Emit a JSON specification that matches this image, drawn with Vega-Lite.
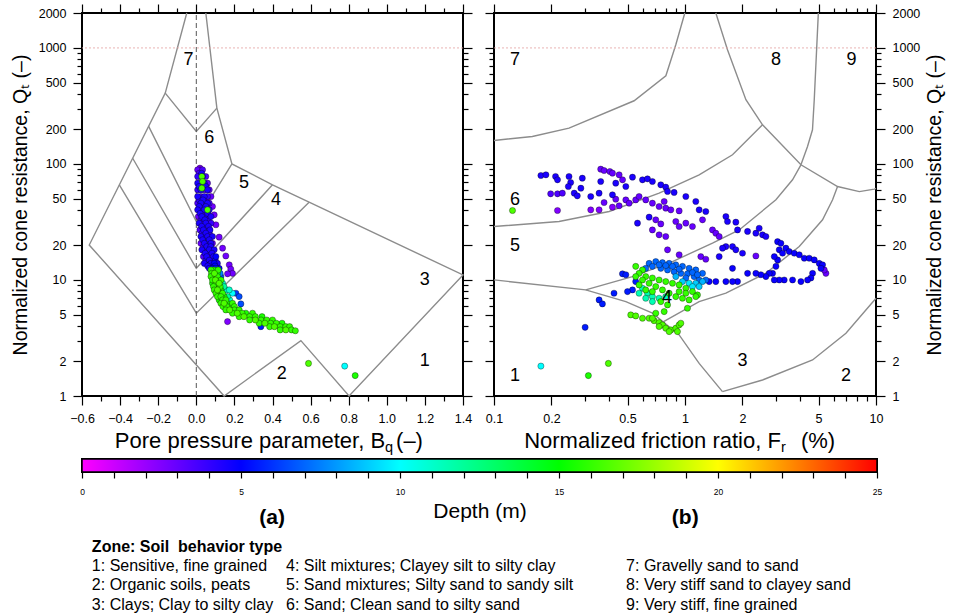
{
"$schema": "https://vega.github.io/schema/vega-lite/v6.json",
"background": "white",
"padding": {"left": 9, "top": 2, "right": 4, "bottom": 2},
"config": {
  "font": "Liberation Sans",
  "view": {"stroke": "black", "strokeWidth": 2},
  "axis": {"domain": false, "grid": false, "tickColor": "black", "tickWidth": 1.2, "labelFont": "Liberation Sans", "labelFontSize": 12.5, "labelColor": "black", "titleFont": "Liberation Sans", "titleFontSize": 19.5, "titleFontWeight": "normal", "titleColor": "black", "labelPadding": 7, "labelOverlap": false, "labelFlush": false, "labelBound": false},
  "text": {"font": "Liberation Sans", "color": "black"}
},
"datasets": {
  "zonesA": [
    {"s":1,"o":0,"bq":-0.05,"qt":2000},{"s":1,"o":1,"bq":-0.163,"qt":408},{"s":1,"o":2,"bq":-0.562,"qt":20},{"s":1,"o":3,"bq":0.146,"qt":1},{"s":1,"o":4,"bq":0.549,"qt":3.0},{"s":1,"o":5,"bq":0.802,"qt":1},{"s":1,"o":6,"bq":1.4,"qt":11.06},{"s":1,"o":7,"bq":0.592,"qt":46.8},{"s":1,"o":8,"bq":0.4,"qt":66.1},{"s":1,"o":9,"bq":0.187,"qt":100},{"s":1,"o":10,"bq":0.108,"qt":303},{"s":1,"o":11,"bq":0.05,"qt":2000},
    {"s":2,"o":0,"bq":-0.163,"qt":408},{"s":2,"o":1,"bq":0,"qt":190.6},{"s":2,"o":2,"bq":0.108,"qt":303},
    {"s":3,"o":0,"bq":-0.25,"qt":211},{"s":3,"o":1,"bq":0,"qt":31.9},{"s":3,"o":2,"bq":0.187,"qt":100},
    {"s":4,"o":0,"bq":-0.334,"qt":112},{"s":4,"o":1,"bq":0,"qt":12.6},{"s":4,"o":2,"bq":0.4,"qt":66.1},
    {"s":5,"o":0,"bq":-0.404,"qt":66},{"s":5,"o":1,"bq":0,"qt":5.17},{"s":5,"o":2,"bq":0.592,"qt":46.8}
  ],
  "zonesB": [
    {"s":1,"o":0,"fr":0.1,"qt":159.3},{"s":1,"o":1,"fr":0.1588,"qt":172.5},{"s":1,"o":2,"fr":0.247,"qt":203.7},{"s":1,"o":3,"fr":0.5415,"qt":350.4},{"s":1,"o":4,"fr":0.794,"qt":575.6},{"s":1,"o":5,"fr":0.895,"qt":1066},{"s":1,"o":6,"fr":0.998,"qt":2000},
    {"s":2,"o":0,"fr":1.45,"qt":2000},{"s":2,"o":1,"fr":1.669,"qt":965},{"s":2,"o":2,"fr":2.084,"qt":357.5},{"s":2,"o":3,"fr":2.546,"qt":217.6},{"s":2,"o":4,"fr":4.046,"qt":98.3},{"s":2,"o":5,"fr":6.29,"qt":63.9},{"s":2,"o":6,"fr":8.18,"qt":57.8},{"s":2,"o":7,"fr":9.8,"qt":60.7},{"s":2,"o":8,"fr":10,"qt":61.5},
    {"s":3,"o":0,"fr":4.99,"qt":2000},{"s":3,"o":1,"fr":4.75,"qt":357.5},{"s":3,"o":2,"fr":4.65,"qt":197},{"s":3,"o":3,"fr":4.38,"qt":141.4},{"s":3,"o":4,"fr":4.046,"qt":98.3},
    {"s":4,"o":0,"fr":0.1,"qt":28.9},{"s":4,"o":1,"fr":0.219,"qt":31.9},{"s":4,"o":2,"fr":0.4006,"qt":38.9},{"s":4,"o":3,"fr":0.7323,"qt":56.0},{"s":4,"o":4,"fr":1.186,"qt":80.6},{"s":4,"o":5,"fr":1.773,"qt":119.9},{"s":4,"o":6,"fr":2.546,"qt":217.6},
    {"s":5,"o":0,"fr":0.1,"qt":10.01},{"s":5,"o":1,"fr":0.302,"qt":8.21},{"s":5,"o":2,"fr":0.49,"qt":6.51},{"s":5,"o":3,"fr":0.6755,"qt":5.17},{"s":5,"o":4,"fr":0.932,"qt":3.36},{"s":5,"o":5,"fr":1.186,"qt":1.91},{"s":5,"o":6,"fr":1.571,"qt":1.09},
    {"s":6,"o":0,"fr":0.302,"qt":8.21},{"s":6,"o":1,"fr":0.5305,"qt":10.69},{"s":6,"o":2,"fr":0.86,"qt":14.4},{"s":6,"o":3,"fr":1.393,"qt":20.8},{"s":6,"o":4,"fr":1.921,"qt":27.0},{"s":6,"o":5,"fr":2.992,"qt":49.1},{"s":6,"o":6,"fr":3.656,"qt":73.0},{"s":6,"o":7,"fr":4.046,"qt":98.3},
    {"s":7,"o":0,"fr":0.7684,"qt":4.35},{"s":7,"o":1,"fr":1.186,"qt":6.51},{"s":7,"o":2,"fr":1.637,"qt":7.69},{"s":7,"o":3,"fr":2.652,"qt":11.44},{"s":7,"o":4,"fr":3.964,"qt":19.4},{"s":7,"o":5,"fr":5.25,"qt":33.0},{"s":7,"o":6,"fr":5.925,"qt":49.1},{"s":7,"o":7,"fr":6.29,"qt":63.9},
    {"s":8,"o":0,"fr":1.571,"qt":1.09},{"s":8,"o":1,"fr":2.546,"qt":1.374},{"s":8,"o":2,"fr":4.654,"qt":2.044},{"s":8,"o":3,"fr":6.96,"qt":3.47},{"s":8,"o":4,"fr":10,"qt":6.96}
  ],
  "labelsA": [
    {"z":"7","bq":-0.041,"qt":791},{"z":"6","bq":0.068,"qt":169},{"z":"5","bq":0.251,"qt":69.2},{"z":"4","bq":0.418,"qt":49.1},{"z":"3","bq":1.199,"qt":10.0},{"z":"2","bq":0.449,"qt":1.54},{"z":"1","bq":1.199,"qt":2.02}
  ],
  "labelsB": [
    {"z":"7","fr":0.1288,"qt":791},{"z":"8","fr":2.992,"qt":791},{"z":"9","fr":7.45,"qt":791},{"z":"6","fr":0.1288,"qt":49.1},{"z":"5","fr":0.1288,"qt":19.8},{"z":"4","fr":0.804,"qt":7.05},{"z":"3","fr":2.0,"qt":2.02},{"z":"2","fr":6.96,"qt":1.49},{"z":"1","fr":0.1288,"qt":1.49}
  ],
  "ptsA": [
    {"bq":0.019,"qt":92,"d":2.5},
    {"bq":0.007,"qt":89,"d":3},{"bq":0.02,"qt":89,"d":2.5},{"bq":0.033,"qt":89,"d":3.5},
    {"bq":0.015,"qt":83,"d":3.5},{"bq":0.028,"qt":83,"d":4.5},
    {"bq":0.007,"qt":78,"d":4},{"bq":0.02,"qt":78,"d":3},{"bq":0.033,"qt":78,"d":4.5},{"bq":0.05,"qt":78,"d":3.5},
    {"bq":0.007,"qt":68.3,"d":4.5},{"bq":0.024,"qt":68.3,"d":3},{"bq":0.042,"qt":68.3,"d":4.5},{"bq":0.059,"qt":68.3,"d":3},
    {"bq":0.015,"qt":64,"d":4.5},{"bq":0.035,"qt":64,"d":3.5},{"bq":0.05,"qt":64,"d":4.5},
    {"bq":0.007,"qt":59.8,"d":4},{"bq":0.024,"qt":59.8,"d":4.5},{"bq":0.042,"qt":59.8,"d":3},{"bq":0.059,"qt":59.8,"d":4.5},{"bq":0.068,"qt":59.8,"d":3},
    {"bq":0.007,"qt":52.4,"d":4.5},{"bq":0.024,"qt":52.4,"d":3.5},{"bq":0.042,"qt":52.4,"d":4.5},{"bq":0.059,"qt":52.4,"d":4},{"bq":0.077,"qt":52.4,"d":3},
    {"bq":0.015,"qt":49,"d":4},{"bq":0.035,"qt":49,"d":4.5},{"bq":0.05,"qt":49,"d":3},
    {"bq":0.007,"qt":45.9,"d":3.5},{"bq":0.024,"qt":45.9,"d":4.5},{"bq":0.042,"qt":45.9,"d":3},{"bq":0.059,"qt":45.9,"d":4.5},{"bq":0.068,"qt":45.9,"d":3.5},
    {"bq":0.015,"qt":43,"d":4.5},{"bq":0.033,"qt":43,"d":3.5},{"bq":0.05,"qt":43,"d":4.5},
    {"bq":0.007,"qt":40.2,"d":4.5},{"bq":0.024,"qt":40.2,"d":3},{"bq":0.042,"qt":40.2,"d":4.5},{"bq":0.059,"qt":40.2,"d":3.5},{"bq":0.068,"qt":40.2,"d":4.5},
    {"bq":0.02,"qt":37.5,"d":4.5},{"bq":0.04,"qt":37.5,"d":3},{"bq":0.06,"qt":37.5,"d":4.5},
    {"bq":0.011,"qt":35.2,"d":3},{"bq":0.029,"qt":35.2,"d":4.5},{"bq":0.05,"qt":35.2,"d":4},{"bq":0.068,"qt":35.2,"d":3.5},{"bq":0.077,"qt":35.2,"d":4.5},
    {"bq":0.025,"qt":33,"d":3.5},{"bq":0.045,"qt":33,"d":4.5},{"bq":0.062,"qt":33,"d":4},
    {"bq":0.015,"qt":30.9,"d":4.5},{"bq":0.033,"qt":30.9,"d":3.5},{"bq":0.05,"qt":30.9,"d":4.5},{"bq":0.068,"qt":30.9,"d":3},{"bq":0.077,"qt":30.9,"d":4},
    {"bq":0.028,"qt":29,"d":4.5},{"bq":0.046,"qt":29,"d":3.5},{"bq":0.064,"qt":29,"d":4.5},
    {"bq":0.019,"qt":27,"d":3.5},{"bq":0.037,"qt":27,"d":4.5},{"bq":0.055,"qt":27,"d":3},{"bq":0.072,"qt":27,"d":4.5},
    {"bq":0.03,"qt":25.3,"d":4},{"bq":0.05,"qt":25.3,"d":4.5},{"bq":0.068,"qt":25.3,"d":3.5},
    {"bq":0.024,"qt":23.7,"d":4.5},{"bq":0.042,"qt":23.7,"d":3.5},{"bq":0.059,"qt":23.7,"d":4.5},{"bq":0.077,"qt":23.7,"d":3},{"bq":0.085,"qt":23.7,"d":4.5},
    {"bq":0.033,"qt":22.2,"d":4.5},{"bq":0.05,"qt":22.2,"d":3},{"bq":0.068,"qt":22.2,"d":4.5},
    {"bq":0.024,"qt":20.7,"d":3},{"bq":0.042,"qt":20.7,"d":4.5},{"bq":0.059,"qt":20.7,"d":3.5},{"bq":0.077,"qt":20.7,"d":4.5},{"bq":0.085,"qt":20.7,"d":3},
    {"bq":0.037,"qt":19.4,"d":3.5},{"bq":0.055,"qt":19.4,"d":4.5},{"bq":0.076,"qt":19.4,"d":4.5},
    {"bq":0.029,"qt":18.2,"d":4.5},{"bq":0.05,"qt":18.2,"d":3},{"bq":0.068,"qt":18.2,"d":4.5},{"bq":0.085,"qt":18.2,"d":4},{"bq":0.094,"qt":18.2,"d":4.5},
    {"bq":0.046,"qt":17,"d":4.5},{"bq":0.064,"qt":17,"d":3.5},{"bq":0.082,"qt":17,"d":4.5},
    {"bq":0.037,"qt":15.9,"d":3.5},{"bq":0.055,"qt":15.9,"d":4.5},{"bq":0.072,"qt":15.9,"d":3},{"bq":0.09,"qt":15.9,"d":4.5},{"bq":0.103,"qt":15.9,"d":5},
    {"bq":0.05,"qt":14.8,"d":4},{"bq":0.068,"qt":14.8,"d":4.5},{"bq":0.086,"qt":14.8,"d":3.5},{"bq":0.1,"qt":14.8,"d":4.5},
    {"bq":0.042,"qt":13.9,"d":4.5},{"bq":0.06,"qt":13.9,"d":3.5},{"bq":0.077,"qt":13.9,"d":4.5},{"bq":0.094,"qt":13.9,"d":5},{"bq":0.111,"qt":13.9,"d":4.5},
    {"bq":0.06,"qt":13.2,"d":4.5},{"bq":0.078,"qt":13.2,"d":4},{"bq":0.098,"qt":13.2,"d":5},
    {"bq":0.068,"qt":12.6,"d":4.5},{"bq":0.085,"qt":12.6,"d":5},{"bq":0.103,"qt":12.6,"d":5.5},{"bq":0.12,"qt":12.6,"d":5},
    {"bq":0.085,"qt":43,"d":2.8},{"bq":0.094,"qt":36.4,"d":2.8},{"bq":0.103,"qt":29.9,"d":2.8},{"bq":0.12,"qt":23.4,"d":2.8},{"bq":0.138,"qt":18.8,"d":2.8},{"bq":0.155,"qt":16.1,"d":2.8},{"bq":0.173,"qt":13.5,"d":2.8},{"bq":0.181,"qt":12.4,"d":2.8},{"bq":0.19,"qt":11.4,"d":2.8},{"bq":0.164,"qt":11.3,"d":2.8},{"bq":0.164,"qt":4.38,"d":2.5},
    {"bq":0.029,"qt":78,"d":16.5},{"bq":0.033,"qt":70.6,"d":16.5},{"bq":0.029,"qt":61.8,"d":16.5},{"bq":0.059,"qt":40.2,"d":16.5},
    {"bq":0.077,"qt":12.2,"d":16},{"bq":0.09,"qt":12.2,"d":15.5},{"bq":0.103,"qt":12.2,"d":7},{"bq":0.115,"qt":12.2,"d":16},
    {"bq":0.08,"qt":11.4,"d":16},{"bq":0.095,"qt":11.4,"d":16.5},{"bq":0.11,"qt":11.4,"d":14},{"bq":0.125,"qt":11.4,"d":7.5},
    {"bq":0.077,"qt":10.7,"d":16},{"bq":0.094,"qt":10.7,"d":15.5},{"bq":0.111,"qt":10.7,"d":16},{"bq":0.129,"qt":10.7,"d":6.5},
    {"bq":0.085,"qt":10,"d":16},{"bq":0.1,"qt":10,"d":16.5},{"bq":0.115,"qt":10,"d":12},{"bq":0.13,"qt":10,"d":16},
    {"bq":0.085,"qt":9.37,"d":15.5},{"bq":0.103,"qt":9.37,"d":16},{"bq":0.12,"qt":9.37,"d":16.5},{"bq":0.138,"qt":9.37,"d":11},
    {"bq":0.09,"qt":8.77,"d":16},{"bq":0.108,"qt":8.77,"d":15.5},{"bq":0.125,"qt":8.77,"d":16},{"bq":0.145,"qt":8.77,"d":12},
    {"bq":0.094,"qt":8.21,"d":16},{"bq":0.111,"qt":8.21,"d":16.5},{"bq":0.129,"qt":8.21,"d":15.5},{"bq":0.16,"qt":8.21,"d":10.5},{"bq":0.173,"qt":8.21,"d":11},
    {"bq":0.103,"qt":7.69,"d":16},{"bq":0.12,"qt":7.69,"d":15.5},{"bq":0.138,"qt":7.69,"d":16},{"bq":0.19,"qt":7.69,"d":10},{"bq":0.208,"qt":7.69,"d":6},
    {"bq":0.111,"qt":7.19,"d":16},{"bq":0.129,"qt":7.19,"d":16},{"bq":0.146,"qt":7.19,"d":15.5},{"bq":0.164,"qt":7.19,"d":12},{"bq":0.225,"qt":7.19,"d":6.5},
    {"bq":0.12,"qt":6.73,"d":15.5},{"bq":0.138,"qt":6.73,"d":16},{"bq":0.155,"qt":6.73,"d":16},{"bq":0.175,"qt":6.73,"d":11},
    {"bq":0.129,"qt":6.3,"d":16},{"bq":0.146,"qt":6.3,"d":16.5},{"bq":0.164,"qt":6.3,"d":15.5},{"bq":0.19,"qt":6.3,"d":16},{"bq":0.234,"qt":6.22,"d":6.5},
    {"bq":0.14,"qt":5.9,"d":16},{"bq":0.16,"qt":5.9,"d":16},{"bq":0.18,"qt":5.9,"d":15.5},{"bq":0.2,"qt":5.9,"d":16},
    {"bq":0.155,"qt":5.52,"d":16},{"bq":0.175,"qt":5.52,"d":16.5},{"bq":0.2,"qt":5.52,"d":16},{"bq":0.225,"qt":5.52,"d":16},
    {"bq":0.19,"qt":5.17,"d":16},{"bq":0.215,"qt":5.17,"d":16.5},{"bq":0.24,"qt":5.17,"d":16},{"bq":0.26,"qt":5.17,"d":15.5},{"bq":0.295,"qt":5.17,"d":16},
    {"bq":0.225,"qt":4.83,"d":16},{"bq":0.25,"qt":4.83,"d":16.5},{"bq":0.28,"qt":4.83,"d":16},{"bq":0.31,"qt":4.83,"d":16},{"bq":0.345,"qt":4.83,"d":15.5},
    {"bq":0.28,"qt":4.52,"d":16},{"bq":0.31,"qt":4.52,"d":16.5},{"bq":0.34,"qt":4.52,"d":16},{"bq":0.37,"qt":4.52,"d":16},{"bq":0.4,"qt":4.52,"d":16},
    {"bq":0.33,"qt":4.24,"d":16},{"bq":0.36,"qt":4.24,"d":16.5},{"bq":0.39,"qt":4.24,"d":16},{"bq":0.42,"qt":4.24,"d":16},{"bq":0.45,"qt":4.24,"d":15.5},
    {"bq":0.385,"qt":3.96,"d":16},{"bq":0.41,"qt":3.96,"d":16.5},{"bq":0.44,"qt":3.96,"d":16},{"bq":0.47,"qt":3.96,"d":16},{"bq":0.49,"qt":3.96,"d":16},
    {"bq":0.44,"qt":3.71,"d":16},{"bq":0.47,"qt":3.71,"d":16.5},{"bq":0.5,"qt":3.71,"d":16},{"bq":0.52,"qt":3.65,"d":16},
    {"bq":0.339,"qt":3.96,"d":5.5},
    {"bq":0.589,"qt":1.91,"d":16.5},{"bq":0.779,"qt":1.81,"d":10},{"bq":0.834,"qt":1.5,"d":15.5}
  ],
  "ptsB": [
    {"fr":0.176,"qt":79.5,"d":4.5},{"fr":0.187,"qt":80.6,"d":4.5},{"fr":0.21,"qt":78.0,"d":4.5},{"fr":0.215,"qt":73.0,"d":4.5},{"fr":0.247,"qt":78.0,"d":4.5},{"fr":0.252,"qt":69.2,"d":4.5},{"fr":0.245,"qt":63.9,"d":4.5},{"fr":0.29,"qt":75.4,"d":4.5},{"fr":0.285,"qt":61.8,"d":4.5},{"fr":0.263,"qt":56.0,"d":4.5},{"fr":0.273,"qt":53.1,"d":4.5},
    {"fr":0.198,"qt":55.3,"d":3.5},{"fr":0.215,"qt":55.3,"d":3.5},{"fr":0.228,"qt":56.0,"d":3.5},{"fr":0.215,"qt":39.7,"d":2.5},
    {"fr":0.362,"qt":90.2,"d":3},{"fr":0.377,"qt":87.8,"d":3},{"fr":0.404,"qt":86.1,"d":3},{"fr":0.417,"qt":83.3,"d":3},{"fr":0.452,"qt":80.6,"d":3},{"fr":0.471,"qt":73.0,"d":3},
    {"fr":0.531,"qt":76.9,"d":4.5},{"fr":0.599,"qt":73.0,"d":4.5},{"fr":0.636,"qt":74.4,"d":4.5},{"fr":0.675,"qt":70.6,"d":4.5},{"fr":0.747,"qt":66.1,"d":4.5},{"fr":0.793,"qt":63.1,"d":4.5},{"fr":0.81,"qt":57.9,"d":4.5},{"fr":0.877,"qt":56.8,"d":4.5},{"fr":0.362,"qt":70.6,"d":4.5},{"fr":0.434,"qt":68.3,"d":4.5},{"fr":0.49,"qt":63.9,"d":4.5},{"fr":0.321,"qt":52.4,"d":4.5},{"fr":0.355,"qt":56.0,"d":4.5},{"fr":0.417,"qt":54.2,"d":4.5},
    {"fr":0.377,"qt":46.5,"d":3},{"fr":0.434,"qt":49.7,"d":3},{"fr":0.49,"qt":49.0,"d":3},{"fr":0.452,"qt":43.6,"d":3},{"fr":0.51,"qt":45.9,"d":3},{"fr":0.552,"qt":49.0,"d":3},{"fr":0.575,"qt":52.4,"d":3},{"fr":0.623,"qt":49.0,"d":3},{"fr":0.675,"qt":45.9,"d":3},{"fr":0.732,"qt":43.0,"d":3},{"fr":0.778,"qt":47.5,"d":3},{"fr":0.793,"qt":41.6,"d":3},{"fr":0.843,"qt":40.2,"d":3},{"fr":0.932,"qt":39.4,"d":3},
    {"fr":1.139,"qt":47.5,"d":4.5},{"fr":1.01,"qt":52.4,"d":4.5},
    {"fr":0.355,"qt":40.2,"d":2.5},{"fr":0.321,"qt":40.2,"d":2.5},{"fr":0.417,"qt":42.4,"d":2.5},
    {"fr":0.564,"qt":30.9,"d":4.5},{"fr":0.649,"qt":34.8,"d":4.5},
    {"fr":0.703,"qt":33.0,"d":3},{"fr":0.747,"qt":30.4,"d":3},{"fr":0.675,"qt":27.0,"d":3},{"fr":0.732,"qt":24.5,"d":3},{"fr":0.793,"qt":23.7,"d":3},{"fr":0.81,"qt":18.2,"d":3},{"fr":0.932,"qt":16.5,"d":3},{"fr":0.895,"qt":31.9,"d":3},{"fr":0.932,"qt":28.9,"d":3},{"fr":1.01,"qt":30.9,"d":3},{"fr":1.094,"qt":28.9,"d":3},{"fr":1.235,"qt":33.0,"d":3},{"fr":1.393,"qt":27.0,"d":3},{"fr":1.45,"qt":25.3,"d":3},{"fr":1.51,"qt":23.7,"d":3},
    {"fr":1.186,"qt":40.2,"d":4.5},{"fr":1.285,"qt":38.9,"d":4.5},{"fr":1.637,"qt":35.2,"d":4.5},{"fr":1.669,"qt":31.9,"d":4.5},{"fr":1.846,"qt":31.5,"d":4.5},{"fr":1.884,"qt":27.0,"d":4.5},{"fr":2.126,"qt":26.2,"d":4.5},{"fr":2.35,"qt":25.3,"d":4.5},{"fr":2.446,"qt":27.9,"d":4.5},{"fr":2.547,"qt":24.5,"d":4.5},{"fr":2.652,"qt":23.7,"d":4.5},{"fr":1.773,"qt":19.4,"d":4.5},{"fr":1.846,"qt":18.2,"d":4.5},{"fr":1.637,"qt":19.4,"d":4.5},{"fr":1.572,"qt":18.8,"d":4.5},{"fr":1.51,"qt":15.9,"d":4.5},{"fr":2.0,"qt":17.0,"d":4.5},
    {"fr":2.35,"qt":16.1,"d":3},{"fr":1.21,"qt":15.9,"d":3},{"fr":1.285,"qt":15.1,"d":3},
    {"fr":3.053,"qt":21.4,"d":4.8},{"fr":3.177,"qt":20.7,"d":4.8},{"fr":3.115,"qt":18.2,"d":4.8},{"fr":3.242,"qt":17.0,"d":4.8},{"fr":3.374,"qt":18.8,"d":4.8},{"fr":3.513,"qt":17.6,"d":4.8},{"fr":3.732,"qt":17.0,"d":4.8},{"fr":3.964,"qt":16.5,"d":4.8},{"fr":4.211,"qt":15.4,"d":4.8},{"fr":4.473,"qt":15.4,"d":4.8},{"fr":4.75,"qt":14.9,"d":4.8},{"fr":5.045,"qt":13.9,"d":4.8},{"fr":5.252,"qt":13.5,"d":4.8},{"fr":5.148,"qt":12.6,"d":4.8},{"fr":4.656,"qt":11.4,"d":4.8},{"fr":4.564,"qt":10.4,"d":4.8},{"fr":4.384,"qt":10.0,"d":4.8},{"fr":4.045,"qt":9.69,"d":4.8},{"fr":3.657,"qt":10.0,"d":4.8},{"fr":3.307,"qt":10.0,"d":4.8},{"fr":3.115,"qt":10.0,"d":4.8},{"fr":2.934,"qt":10.0,"d":4.8},{"fr":2.874,"qt":11.4,"d":4.8},{"fr":2.993,"qt":13.1,"d":4.8},{"fr":3.053,"qt":14.9,"d":4.8},{"fr":2.934,"qt":15.9,"d":4.8},{"fr":2.76,"qt":11.4,"d":4.8},{"fr":2.652,"qt":10.7,"d":4.8},{"fr":2.496,"qt":11.1,"d":4.8},{"fr":2.35,"qt":11.4,"d":4.8},{"fr":2.126,"qt":11.4,"d":4.8},{"fr":1.884,"qt":9.69,"d":4.8},{"fr":1.637,"qt":9.69,"d":4.8},{"fr":1.45,"qt":9.69,"d":4.8},{"fr":1.773,"qt":12.6,"d":4.8},{"fr":1.773,"qt":9.69,"d":4.8},{"fr":1.338,"qt":9.69,"d":4.8},
    {"fr":5.468,"qt":11.4,"d":3},{"fr":5.36,"qt":12.2,"d":3},
    {"fr":0.4705,"qt":11.3,"d":5.5},{"fr":0.49,"qt":11.1,"d":5.5},{"fr":0.552,"qt":9.69,"d":5.5},{"fr":0.531,"qt":8.21,"d":5.5},{"fr":0.5,"qt":7.94,"d":5.5},{"fr":0.425,"qt":7.69,"d":5.5},{"fr":0.355,"qt":6.73,"d":5.5},{"fr":0.3695,"qt":6.22,"d":5.5},{"fr":0.3,"qt":3.91,"d":5.5},
    {"fr":0.649,"qt":13.9,"d":7},{"fr":0.703,"qt":14.4,"d":7},{"fr":0.762,"qt":14.1,"d":7},{"fr":0.826,"qt":13.9,"d":7},{"fr":0.895,"qt":13.5,"d":7},{"fr":0.97,"qt":13.1,"d":7},{"fr":1.051,"qt":12.6,"d":7},{"fr":1.139,"qt":12.2,"d":7},{"fr":1.235,"qt":11.4,"d":7},{"fr":1.285,"qt":10.0,"d":7},{"fr":0.675,"qt":13.1,"d":7},{"fr":0.747,"qt":12.6,"d":7},{"fr":0.81,"qt":12.2,"d":7},{"fr":0.877,"qt":11.8,"d":7},{"fr":0.951,"qt":11.4,"d":7},{"fr":1.03,"qt":11.3,"d":7},{"fr":1.116,"qt":10.7,"d":7},{"fr":1.186,"qt":10.0,"d":7},{"fr":0.623,"qt":12.6,"d":7},{"fr":0.732,"qt":13.5,"d":7},{"fr":0.932,"qt":12.4,"d":7},{"fr":1.094,"qt":11.6,"d":7},{"fr":1.01,"qt":10.4,"d":7},{"fr":1.162,"qt":11.1,"d":7},{"fr":0.86,"qt":13.1,"d":7},{"fr":0.793,"qt":13.3,"d":7},
    {"fr":0.895,"qt":10.7,"d":8.5},{"fr":0.97,"qt":9.69,"d":9},{"fr":1.051,"qt":9.37,"d":9.5},{"fr":1.139,"qt":9.37,"d":9},{"fr":1.235,"qt":9.69,"d":8.5},{"fr":1.094,"qt":8.77,"d":9.5},{"fr":1.186,"qt":8.77,"d":9},
    {"fr":0.552,"qt":13.1,"d":16},{"fr":0.599,"qt":12.2,"d":16},{"fr":0.575,"qt":11.4,"d":16},{"fr":0.623,"qt":10.7,"d":16},{"fr":0.675,"qt":10.4,"d":16},{"fr":0.732,"qt":10.0,"d":16},{"fr":0.793,"qt":9.69,"d":16},{"fr":0.86,"qt":9.37,"d":16},{"fr":0.932,"qt":9.07,"d":16},{"fr":1.01,"qt":8.49,"d":16},{"fr":1.094,"qt":7.94,"d":16},{"fr":1.162,"qt":7.43,"d":16},{"fr":0.552,"qt":10.7,"d":16},{"fr":0.599,"qt":10.0,"d":16},{"fr":0.575,"qt":9.07,"d":16},{"fr":0.649,"qt":9.37,"d":16},{"fr":0.703,"qt":8.77,"d":16},{"fr":0.762,"qt":8.21,"d":16},{"fr":0.826,"qt":7.69,"d":16},{"fr":0.895,"qt":7.19,"d":16},{"fr":0.97,"qt":6.96,"d":16},{"fr":1.051,"qt":6.73,"d":16},{"fr":1.139,"qt":7.19,"d":16},{"fr":1.03,"qt":5.71,"d":16},{"fr":0.81,"qt":6.1,"d":16},{"fr":0.778,"qt":5.34,"d":16},{"fr":0.703,"qt":5.17,"d":16},{"fr":0.747,"qt":6.51,"d":16},{"fr":0.932,"qt":7.94,"d":16},{"fr":1.01,"qt":7.69,"d":16},{"fr":0.675,"qt":7.94,"d":16},{"fr":0.623,"qt":8.21,"d":16},
    {"fr":0.599,"qt":8.49,"d":11.5},{"fr":0.636,"qt":7.69,"d":11.5},{"fr":0.675,"qt":7.19,"d":11.5},{"fr":0.732,"qt":6.96,"d":11.5},{"fr":0.793,"qt":7.19,"d":11.5},{"fr":0.623,"qt":6.96,"d":11.5},{"fr":0.575,"qt":7.69,"d":11.5},{"fr":0.675,"qt":6.51,"d":11.5},
    {"fr":0.52,"qt":5.0,"d":16.5},{"fr":0.552,"qt":4.9,"d":16.5},{"fr":0.599,"qt":4.68,"d":16.5},{"fr":0.649,"qt":4.68,"d":16.5},{"fr":0.689,"qt":4.46,"d":16.5},{"fr":0.732,"qt":4.29,"d":16.5},{"fr":0.762,"qt":4.1,"d":16.5},{"fr":0.793,"qt":3.84,"d":16.5},{"fr":0.843,"qt":3.71,"d":16.5},{"fr":0.895,"qt":3.84,"d":16.5},{"fr":0.932,"qt":4.1,"d":16.5},{"fr":0.951,"qt":4.24,"d":16.5},{"fr":0.913,"qt":3.59,"d":16.5},{"fr":0.826,"qt":3.59,"d":16.5},{"fr":0.732,"qt":3.97,"d":16.5},{"fr":0.675,"qt":4.68,"d":16.5},
    {"fr":0.125,"qt":39.7,"d":16.5},{"fr":0.176,"qt":1.81,"d":10},{"fr":0.312,"qt":1.5,"d":15.5},{"fr":0.397,"qt":1.91,"d":16.5}
  ],
  "bar": [{"lo": 0, "hi": 25}]
},
"spacing": 1,
"vconcat": [
  {
    "hconcat": [
      {
        "width": 381, "height": 383,
        "resolve": {"axis": {"x": "independent", "y": "independent"}},
        "layer": [
          {
            "data": {"name": "zonesA"},
            "mark": {"type": "line", "color": "#8c8c8c", "strokeWidth": 1.4},
            "encoding": {
              "x": {"field": "bq", "type": "quantitative", "scale": {"domain": [-0.6, 1.4], "nice": false, "zero": false},
                "axis": {"orient": "bottom", "values": [-0.6,-0.5,-0.4,-0.3,-0.2,-0.1,0,0.1,0.2,0.3,0.4,0.5,0.6,0.7,0.8,0.9,1,1.1,1.2,1.3,1.4], "labelExpr": "abs(round(datum.value*10)) % 2 === 0 ? format(datum.value, '.1f') : ''", "tickSize": {"condition": {"test": "abs(round(datum.value*10)) % 2 === 0", "value": 9}, "value": 5}, "title": null}},
              "y": {"field": "qt", "type": "quantitative", "scale": {"type": "log", "domain": [1, 2000], "nice": false},
                "axis": {"orient": "left", "values": [1,2,3,4,5,6,7,8,9,10,20,30,40,50,60,70,80,90,100,200,300,400,500,600,700,800,900,1000,2000], "format": "~g", "labelExpr": "indexof([1,2,5,10,20,50,100,200,500,1000,2000], datum.value) >= 0 ? datum.label : ''", "tickSize": {"condition": {"test": "indexof([1,2,5,10,20,50,100,200,500,1000,2000], datum.value) >= 0", "value": 9}, "value": 5}, "title": "Normalized cone resistance, Qₜ (–)", "titlePadding": 8}},
              "detail": {"field": "s"},
              "order": {"field": "o"}
            }
          },
          {
            "data": {"values": [{}]},
            "mark": {"type": "rule", "color": "#555555", "strokeDash": [5, 3], "strokeWidth": 1},
            "encoding": {
              "x": {"datum": 0, "type": "quantitative", "scale": {"domain": [-0.6, 1.4], "nice": false, "zero": false}, "axis": null},
              "y": {"datum": 1, "type": "quantitative", "scale": {"type": "log", "domain": [1, 2000], "nice": false}, "axis": null},
              "y2": {"datum": 2000}
            }
          },
          {
            "data": {"values": [{}]},
            "mark": {"type": "rule", "color": "#e3a0a0", "strokeDash": [2, 2], "strokeWidth": 0.8},
            "encoding": {
              "y": {"datum": 1000, "type": "quantitative", "scale": {"type": "log", "domain": [1, 2000], "nice": false}, "axis": null}
            }
          },
          {
            "data": {"name": "ptsA"},
            "mark": {"type": "circle", "size": 38, "opacity": 1, "stroke": "black", "strokeWidth": 0.35},
            "encoding": {
              "x": {"field": "bq", "type": "quantitative", "scale": {"domain": [-0.6, 1.4], "nice": false, "zero": false},
                "axis": {"orient": "top", "values": [-0.6,-0.5,-0.4,-0.3,-0.2,-0.1,0,0.1,0.2,0.3,0.4,0.5,0.6,0.7,0.8,0.9,1,1.1,1.2,1.3,1.4], "labels": false, "tickSize": {"condition": {"test": "abs(round(datum.value*10)) % 2 === 0", "value": 9}, "value": 5}, "title": null}},
              "y": {"field": "qt", "type": "quantitative", "scale": {"type": "log", "domain": [1, 2000], "nice": false},
                "axis": {"orient": "right", "values": [1,2,3,4,5,6,7,8,9,10,20,30,40,50,60,70,80,90,100,200,300,400,500,600,700,800,900,1000,2000], "labels": false, "tickSize": {"condition": {"test": "indexof([1,2,5,10,20,50,100,200,500,1000,2000], datum.value) >= 0", "value": 9}, "value": 5}, "title": null}},
              "fill": {"field": "d", "type": "quantitative", "scale": {"domain": [0,5,10,15,20,25], "range": ["#ff00ff","#0000ff","#00ffff","#00ff00","#ffff00","#ff0000"], "interpolate": "rgb"}, "legend": null},
              "order": {"field": "d", "type": "quantitative"}
            }
          },
          {
            "data": {"name": "labelsA"},
            "mark": {"type": "text", "fontSize": 18, "align": "center", "baseline": "middle"},
            "encoding": {
              "x": {"field": "bq", "type": "quantitative", "scale": {"domain": [-0.6, 1.4], "nice": false, "zero": false}, "axis": null},
              "y": {"field": "qt", "type": "quantitative", "scale": {"type": "log", "domain": [1, 2000], "nice": false}, "axis": null},
              "text": {"field": "z"}
            }
          },
          {
            "data": {"values": [{}]},
            "mark": {"type": "text", "text": "Pore pressure parameter, B", "fontSize": 22, "align": "right", "baseline": "alphabetic"},
            "encoding": {
              "x": {"datum": 0.991, "type": "quantitative", "scale": {"domain": [-0.6, 1.4], "nice": false, "zero": false}, "axis": null},
              "y": {"datum": 0.356, "type": "quantitative", "scale": {"type": "log", "domain": [1, 2000], "nice": false}, "axis": null}
            }
          },
          {
            "data": {"values": [{}]},
            "mark": {"type": "text", "text": "q", "fontSize": 14.5, "align": "left", "baseline": "alphabetic"},
            "encoding": {
              "x": {"datum": 0.991, "type": "quantitative", "scale": {"domain": [-0.6, 1.4], "nice": false, "zero": false}, "axis": null},
              "y": {"datum": 0.326, "type": "quantitative", "scale": {"type": "log", "domain": [1, 2000], "nice": false}, "axis": null}
            }
          },
          {
            "data": {"values": [{}]},
            "mark": {"type": "text", "text": "(–)", "fontSize": 22, "align": "left", "baseline": "alphabetic"},
            "encoding": {
              "x": {"datum": 1.0486, "type": "quantitative", "scale": {"domain": [-0.6, 1.4], "nice": false, "zero": false}, "axis": null},
              "y": {"datum": 0.356, "type": "quantitative", "scale": {"type": "log", "domain": [1, 2000], "nice": false}, "axis": null}
            }
          }
        ]
      },
      {
        "width": 382, "height": 383,
        "resolve": {"axis": {"x": "independent", "y": "independent"}},
        "layer": [
          {
            "data": {"name": "zonesB"},
            "mark": {"type": "line", "color": "#8c8c8c", "strokeWidth": 1.4},
            "encoding": {
              "x": {"field": "fr", "type": "quantitative", "scale": {"type": "log", "domain": [0.1, 10], "nice": false},
                "axis": {"orient": "bottom", "values": [0.1,0.2,0.3,0.4,0.5,0.6,0.7,0.8,0.9,1,2,3,4,5,6,7,8,9,10], "format": "~g", "labelExpr": "indexof([0.1,0.2,0.5,1,2,5,10], datum.value) >= 0 ? datum.label : ''", "tickSize": {"condition": {"test": "indexof([0.1,0.2,0.5,1,2,5,10], datum.value) >= 0", "value": 9}, "value": 5}, "title": null}},
              "y": {"field": "qt", "type": "quantitative", "scale": {"type": "log", "domain": [1, 2000], "nice": false},
                "axis": {"orient": "left", "values": [1,2,3,4,5,6,7,8,9,10,20,30,40,50,60,70,80,90,100,200,300,400,500,600,700,800,900,1000,2000], "labels": false, "tickSize": {"condition": {"test": "indexof([1,2,5,10,20,50,100,200,500,1000,2000], datum.value) >= 0", "value": 9}, "value": 5}, "title": null}},
              "detail": {"field": "s"},
              "order": {"field": "o"}
            }
          },
          {
            "data": {"values": [{}]},
            "mark": {"type": "rule", "color": "#e3a0a0", "strokeDash": [2, 2], "strokeWidth": 0.8},
            "encoding": {
              "y": {"datum": 1000, "type": "quantitative", "scale": {"type": "log", "domain": [1, 2000], "nice": false}, "axis": null}
            }
          },
          {
            "data": {"name": "ptsB"},
            "mark": {"type": "circle", "size": 38, "opacity": 1, "stroke": "black", "strokeWidth": 0.35},
            "encoding": {
              "x": {"field": "fr", "type": "quantitative", "scale": {"type": "log", "domain": [0.1, 10], "nice": false},
                "axis": {"orient": "top", "values": [0.1,0.2,0.3,0.4,0.5,0.6,0.7,0.8,0.9,1,2,3,4,5,6,7,8,9,10], "labels": false, "tickSize": {"condition": {"test": "indexof([0.1,0.2,0.5,1,2,5,10], datum.value) >= 0", "value": 9}, "value": 5}, "title": null}},
              "y": {"field": "qt", "type": "quantitative", "scale": {"type": "log", "domain": [1, 2000], "nice": false},
                "axis": {"orient": "right", "values": [1,2,3,4,5,6,7,8,9,10,20,30,40,50,60,70,80,90,100,200,300,400,500,600,700,800,900,1000,2000], "format": "~g", "labelExpr": "indexof([1,2,5,10,20,50,100,200,500,1000,2000], datum.value) >= 0 ? datum.label : ''", "tickSize": {"condition": {"test": "indexof([1,2,5,10,20,50,100,200,500,1000,2000], datum.value) >= 0", "value": 9}, "value": 5}, "title": "Normalized cone resistance, Qₜ (–)", "titleAngle": 270, "titleBaseline": "top", "titlePadding": 6}},
              "fill": {"field": "d", "type": "quantitative", "scale": {"domain": [0,5,10,15,20,25], "range": ["#ff00ff","#0000ff","#00ffff","#00ff00","#ffff00","#ff0000"], "interpolate": "rgb"}, "legend": null},
              "order": {"field": "d", "type": "quantitative"}
            }
          },
          {
            "data": {"name": "labelsB"},
            "mark": {"type": "text", "fontSize": 18, "align": "center", "baseline": "middle"},
            "encoding": {
              "x": {"field": "fr", "type": "quantitative", "scale": {"type": "log", "domain": [0.1, 10], "nice": false}, "axis": null},
              "y": {"field": "qt", "type": "quantitative", "scale": {"type": "log", "domain": [1, 2000], "nice": false}, "axis": null},
              "text": {"field": "z"}
            }
          },
          {
            "data": {"values": [{}]},
            "mark": {"type": "text", "text": "Normalized friction ratio, F", "fontSize": 22, "align": "right", "baseline": "alphabetic"},
            "encoding": {
              "x": {"datum": 3.178, "type": "quantitative", "scale": {"type": "log", "domain": [0.1, 10], "nice": false}, "axis": null},
              "y": {"datum": 0.356, "type": "quantitative", "scale": {"type": "log", "domain": [1, 2000], "nice": false}, "axis": null}
            }
          },
          {
            "data": {"values": [{}]},
            "mark": {"type": "text", "text": "r", "fontSize": 14.5, "align": "left", "baseline": "alphabetic"},
            "encoding": {
              "x": {"datum": 3.178, "type": "quantitative", "scale": {"type": "log", "domain": [0.1, 10], "nice": false}, "axis": null},
              "y": {"datum": 0.326, "type": "quantitative", "scale": {"type": "log", "domain": [1, 2000], "nice": false}, "axis": null}
            }
          },
          {
            "data": {"values": [{}]},
            "mark": {"type": "text", "text": "(%)", "fontSize": 22, "align": "left", "baseline": "alphabetic"},
            "encoding": {
              "x": {"datum": 4.046, "type": "quantitative", "scale": {"type": "log", "domain": [0.1, 10], "nice": false}, "axis": null},
              "y": {"datum": 0.356, "type": "quantitative", "scale": {"type": "log", "domain": [1, 2000], "nice": false}, "axis": null}
            }
          }
        ]
      }
    ],
    "spacing": 31,
    "bounds": "flush"
  },
  {
    "width": 795, "height": 13,
    "resolve": {"axis": {"x": "independent", "y": "independent"}},
    "layer": [
      {
        "data": {"name": "bar"},
        "mark": {"type": "rect", "stroke": "black", "strokeWidth": 1.5, "fill": {"gradient": "linear", "x1": 0, "y1": 0, "x2": 1, "y2": 0, "stops": [{"offset": 0, "color": "#ff00ff"}, {"offset": 0.2, "color": "#0000ff"}, {"offset": 0.4, "color": "#00ffff"}, {"offset": 0.6, "color": "#00ff00"}, {"offset": 0.8, "color": "#ffff00"}, {"offset": 1, "color": "#ff0000"}]}},
        "encoding": {
          "x": {"field": "lo", "type": "quantitative", "scale": {"domain": [0, 25], "nice": false, "zero": false},
            "axis": {"orient": "bottom", "values": [0,1,2,3,4,5,6,7,8,9,10,11,12,13,14,15,16,17,18,19,20,21,22,23,24,25], "labelExpr": "datum.value % 5 === 0 ? datum.label : ''", "tickSize": 6, "labelFontSize": 8.5, "labelPadding": 9, "title": "Depth (m)", "titleFontSize": 21, "titlePadding": 5}},
          "x2": {"field": "hi"},
          "y": {"datum": 0, "type": "quantitative", "scale": {"domain": [0, 1], "nice": false, "zero": false}, "axis": null},
          "y2": {"datum": 1}
        }
      },
      {
        "data": {"values": [{}]},
        "mark": {"type": "text", "text": "(a)", "fontSize": 21, "fontWeight": "bold", "align": "center", "baseline": "middle"},
        "encoding": {
          "x": {"datum": 5.98, "type": "quantitative", "scale": {"domain": [0, 25], "nice": false, "zero": false}, "axis": null},
          "y": {"datum": -3.54, "type": "quantitative", "scale": {"domain": [0, 1], "nice": false, "zero": false}, "axis": null}
        }
      },
      {
        "data": {"values": [{}]},
        "mark": {"type": "text", "text": "(b)", "fontSize": 21, "fontWeight": "bold", "align": "center", "baseline": "middle"},
        "encoding": {
          "x": {"datum": 18.97, "type": "quantitative", "scale": {"domain": [0, 25], "nice": false, "zero": false}, "axis": null},
          "y": {"datum": -3.54, "type": "quantitative", "scale": {"domain": [0, 1], "nice": false, "zero": false}, "axis": null}
        }
      },
      {
        "data": {"values": [{}]},
        "mark": {"type": "text", "text": "Zone: Soil\u00a0 behavior type", "fontSize": 16, "fontWeight": "bold", "align": "left", "baseline": "middle"},
        "encoding": {
          "x": {"datum": 0.31, "type": "quantitative", "scale": {"domain": [0, 25], "nice": false, "zero": false}, "axis": null},
          "y": {"datum": -5.75, "type": "quantitative", "scale": {"domain": [0, 1], "nice": false, "zero": false}, "axis": null}
        }
      },
      {
        "data": {"values": [{}]},
        "mark": {"type": "text", "text": ["1: Sensitive, fine grained", "2: Organic soils, peats", "3: Clays; Clay to silty clay"], "fontSize": 16, "lineHeight": 19.7, "align": "left", "baseline": "middle"},
        "encoding": {
          "x": {"datum": 0.31, "type": "quantitative", "scale": {"domain": [0, 25], "nice": false, "zero": false}, "axis": null},
          "y": {"datum": -7.21, "type": "quantitative", "scale": {"domain": [0, 1], "nice": false, "zero": false}, "axis": null}
        }
      },
      {
        "data": {"values": [{}]},
        "mark": {"type": "text", "text": ["4: Silt mixtures; Clayey silt to silty clay", "5: Sand mixtures; Silty sand to sandy silt", "6: Sand; Clean sand to silty sand"], "fontSize": 16, "lineHeight": 19.7, "align": "left", "baseline": "middle"},
        "encoding": {
          "x": {"datum": 6.415, "type": "quantitative", "scale": {"domain": [0, 25], "nice": false, "zero": false}, "axis": null},
          "y": {"datum": -7.21, "type": "quantitative", "scale": {"domain": [0, 1], "nice": false, "zero": false}, "axis": null}
        }
      },
      {
        "data": {"values": [{}]},
        "mark": {"type": "text", "text": ["7: Gravelly sand to sand", "8: Very stiff sand to clayey sand", "9: Very stiff, fine grained"], "fontSize": 16, "lineHeight": 19.7, "align": "left", "baseline": "middle"},
        "encoding": {
          "x": {"datum": 17.11, "type": "quantitative", "scale": {"domain": [0, 25], "nice": false, "zero": false}, "axis": null},
          "y": {"datum": -7.21, "type": "quantitative", "scale": {"domain": [0, 1], "nice": false, "zero": false}, "axis": null}
        }
      }
    ]
  }
]
}
